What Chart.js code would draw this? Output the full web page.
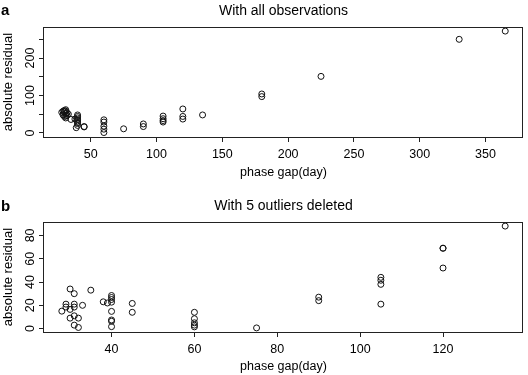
<!DOCTYPE html>
<html>
<head>
<meta charset="utf-8">
<script src="https://cdn.jsdelivr.net/npm/chart.js@4.4.0/dist/chart.umd.min.js"></script>
<style>
  body { margin: 0; background: #fff; }
  #wrap { position: relative; width: 528px; height: 375px; }
  canvas { position: absolute; left: 0; }
  .tag { position: absolute; left: 1px; font: bold 15px "Liberation Sans", Arial, sans-serif; line-height: 15px; color: #000; }
</style>
</head>
<body>
<div id="wrap">
  <canvas id="chartA" width="528" height="187" style="top:0"></canvas>
  <canvas id="chartB" width="528" height="188" style="top:187px"></canvas>
  <div class="tag" style="top:2px">a</div>
  <div class="tag" style="top:198px">b</div>
</div>
<script>
// panel a: all observations
const gapAll = [28, 29, 29, 30, 31, 35, 30, 31, 31, 33, 30, 31, 32, 31, 32,
    38, 39, 40, 40, 40, 40, 40, 40, 40, 40, 45, 45,
    60, 60, 60, 60, 60, 75, 90, 90, 105, 105, 105, 105,
    120, 120, 120, 135, 180, 180, 225, 330, 365];
const residAll = [55, 58, 48, 60, 52, 36, 44, 62, 40, 50, 56, 45, 54, 58, 47,
    37, 14, 48, 44, 40, 36, 32, 28, 25, 20, 17, 16,
    35, 29, 18, 10, 1, 11, 24, 17, 45, 38, 33, 29,
    64, 44, 37, 48, 97, 104, 151, 250, 272];
const xTicksA = [50, 100, 150, 200, 250, 300, 350];
const yTicksA = [0, 50, 100, 150, 200, 250];
const yLabelsA = [0, 100, 200];

// panel b: 5 outliers deleted
const gapCut = [28, 29, 29, 30, 31, 35, 30, 31, 31, 33, 30, 31, 32, 31, 32,
    38, 39, 40, 40, 40, 40, 40, 40, 40, 40, 45, 45,
    60, 60, 60, 60, 60, 75, 90, 90, 105, 105, 105, 105,
    120, 120, 120, 135];
const residCut = [15, 21, 18.5, 34, 30, 33, 16.5, 21, 18.5, 20, 9, 11, 9, 3, 1,
    23, 22, 28.4, 26.7, 25, 22.7, 14.8, 7.4, 6.3, 1.7, 21.6, 14,
    14, 8.5, 5, 3, 1.5, 0.6, 27, 24, 44, 41.5, 38, 21,
    69, 69, 52, 88];
const xTicksB = [40, 60, 80, 100, 120];
const yTicksB = [0, 20, 40, 60, 80];

const FONT = '"Liberation Sans", Arial, sans-serif';
Chart.defaults.font.family = FONT;
Chart.defaults.color = '#000';

// R-style box round the plot region
const boxPlugin = {
    id: 'box',
    afterDraw(chart) {
        const a = chart.chartArea;
        const ctx = chart.ctx;
        ctx.save();
        ctx.strokeStyle = '#222';
        ctx.lineWidth = 1;
        ctx.strokeRect(Math.round(a.left) - 0.5, Math.round(a.top) + 0.5,
            Math.round(a.right - a.left), Math.round(a.bottom - a.top));
        ctx.restore();
    }
};

// y tick labels read upwards (R las = 0)
function drawUpLabels(chart, xPos, labels) {
    const y = chart.scales.y;
    const ctx = chart.ctx;
    labels.forEach(v => {
        ctx.save();
        ctx.fillStyle = '#000';
        ctx.font = '12.5px ' + FONT;
        ctx.textAlign = 'center';
        ctx.textBaseline = 'middle';
        ctx.translate(xPos, y.getPixelForValue(v));
        ctx.rotate(-Math.PI / 2);
        ctx.fillText(String(v), 0, 0);
        ctx.restore();
    });
}

function makePanel(id, cfg) {
    const tickMarks = { display: true, drawOnChartArea: false, drawTicks: true, tickLength: 5, color: '#222' };
    return new Chart(document.getElementById(id), {
        type: 'scatter',
        data: {
            datasets: [{
                data: cfg.xs.map((x, i) => ({ x: x, y: cfg.ys[i] })),
                pointStyle: 'circle',
                pointRadius: 3,
                pointBorderWidth: 1,
                borderColor: '#111',
                backgroundColor: 'rgba(0,0,0,0)'
            }]
        },
        options: {
            responsive: false,
            animation: false,
            devicePixelRatio: 1,
            layout: { padding: { left: 0, right: 1, top: 0, bottom: 0 } },
            plugins: {
                legend: { display: false },
                tooltip: { enabled: false }
            },
            scales: {
                x: {
                    type: 'linear', position: 'bottom',
                    min: cfg.xMin, max: cfg.xMax,
                    afterBuildTicks: s => { s.ticks = cfg.xTicks.map(v => ({ value: v })); },
                    afterFit: s => { s.height = cfg.xAxisH; },
                    grid: tickMarks,
                    border: { display: false },
                    ticks: { font: { size: 12.5 }, padding: 5, maxRotation: 0, autoSkip: false },
                    title: { display: true, text: 'phase gap(day)', font: { size: 12.5 }, padding: { top: 0, bottom: cfg.xTitlePad } }
                },
                top: {
                    type: 'linear', position: 'top',
                    grid: { display: false },
                    border: { display: false },
                    ticks: { display: false },
                    afterFit: s => { s.height = cfg.titleH; },
                    title: { display: true, text: cfg.title, font: { size: 14 }, padding: { top: cfg.titlePad, bottom: 0 } }
                },
                y: {
                    type: 'linear', position: 'left',
                    min: cfg.yMin, max: cfg.yMax,
                    afterBuildTicks: s => { s.ticks = cfg.yTicks.map(v => ({ value: v })); },
                    afterFit: s => { s.width = 44; },
                    grid: tickMarks,
                    border: { display: false },
                    ticks: { display: false },
                    title: { display: true, text: 'absolute residual', font: { size: 13 }, padding: { top: 1, bottom: 0 } }
                }
            }
        },
        plugins: [boxPlugin, {
            id: 'upLabels',
            afterDraw: chart => drawUpLabels(chart, 31, cfg.yLabels)
        }]
    });
}

makePanel('chartA', {
    xs: gapAll, ys: residAll,
    xMin: 14.5, xMax: 378.5, yMin: -10.9, yMax: 282.9,
    xTicks: xTicksA, yTicks: yTicksA, yLabels: yLabelsA,
    title: 'With all observations', titleH: 27, titlePad: 3,
    xAxisH: 50, xTitlePad: 7
});

makePanel('chartB', {
    xs: gapCut, ys: residCut,
    xMin: 23.7, xMax: 139.3, yMin: -2.9, yMax: 91.5,
    xTicks: xTicksB, yTicks: yTicksB, yLabels: yTicksB,
    title: 'With 5 outliers deleted', titleH: 35, titlePad: 11,
    xAxisH: 43, xTitlePad: 0.5
});
</script>
</body>
</html>
